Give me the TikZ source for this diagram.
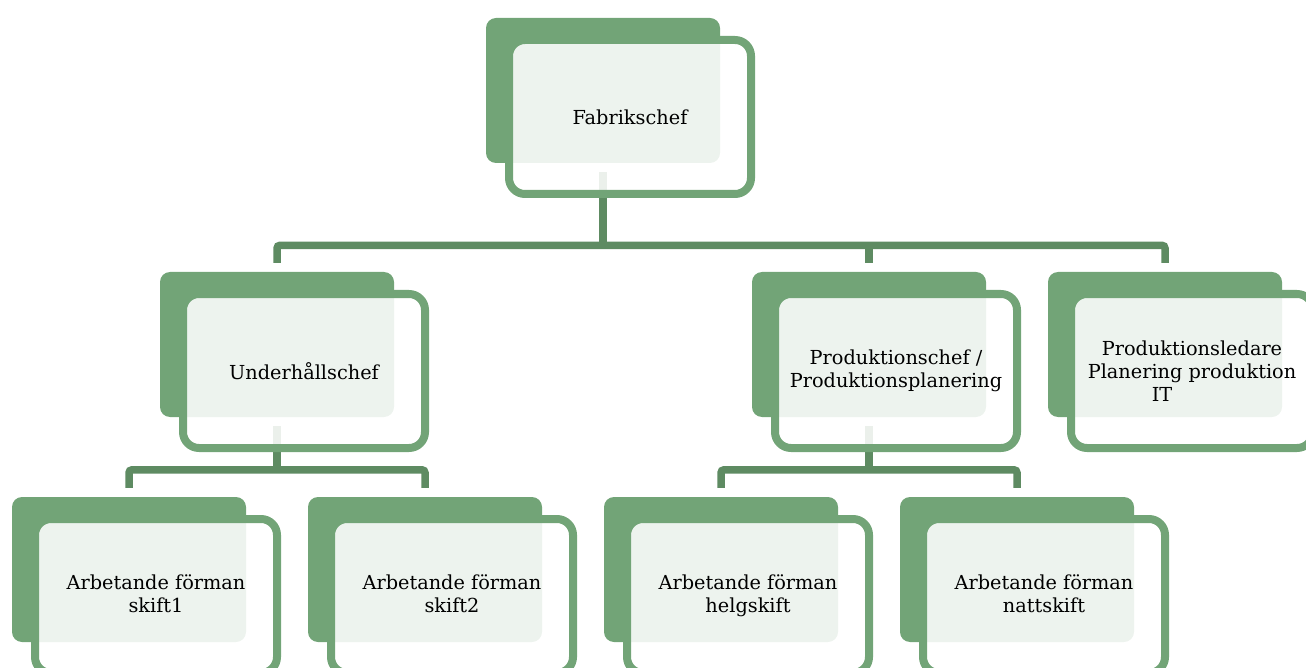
\documentclass[tikz,border=0pt]{standalone}
\usepackage{fontspec}
\setmainfont{DejaVu Serif}
\usetikzlibrary{calc}
\definecolor{boxgreen}{HTML}{72A477}
\definecolor{conngreen}{HTML}{5E8B62}
\tikzset{
  backbox/.style={fill=boxgreen, draw=none, rounded corners=10pt, minimum width=234pt, minimum height=145pt, inner sep=0pt},
  frontbox/.style={fill=white, fill opacity=0.88, text opacity=1, draw=boxgreen, line width=8pt, rounded corners=16pt, minimum width=242pt, minimum height=154pt, inner sep=0pt, align=center, font=\fontsize{19.3}{23}\selectfont, text=black},
  conn/.style={draw=conngreen, line width=7.5pt, rounded corners=3pt},
}
\begin{document}
\begin{tikzpicture}[x=1pt, y=-1pt]
\useasboundingbox (0,0) rectangle (1306,668);
% back boxes
\node[backbox] (bF)  at (603,90.5) {};
\node[backbox] (bU)  at (277,344.5) {};
\node[backbox] (bPC) at (869,344.5) {};
\node[backbox] (bPL) at (1165,344.5) {};
\node[backbox] (bA1) at (129,569.5) {};
\node[backbox] (bA2) at (425,569.5) {};
\node[backbox] (bA3) at (721,569.5) {};
\node[backbox] (bA4) at (1017,569.5) {};
% connectors
\draw[conn] ($(bF.south)+(0,9)$) -- ($(bF.south)+(0,82.5)$);
\draw[conn] ($(bU.north)+(0,-9)$) |- ($(bPL.north)+(0,-26.5)$) -- ($(bPL.north)+(0,-9)$);
\draw[conn] ($(bPC.north)+(0,-9)$) -- ($(bPC.north)+(0,-26.5)$);
\draw[conn] ($(bU.south)+(0,9)$) -- ($(bU.south)+(0,53)$);
\draw[conn] ($(bA1.north)+(0,-9)$) |- ($(bA2.north)+(0,-27)$) -- ($(bA2.north)+(0,-9)$);
\draw[conn] ($(bPC.south)+(0,9)$) -- ($(bPC.south)+(0,53)$);
\draw[conn] ($(bA3.north)+(0,-9)$) |- ($(bA4.north)+(0,-27)$) -- ($(bA4.north)+(0,-9)$);
% front boxes
\node[frontbox] (fF)  at ($(bF.center)+(27,26.5)$) {Fabrikschef};
\node[frontbox] (fU)  at ($(bU.center)+(27,26.5)$) {Underhållschef};
\node[frontbox] (fPC) at ($(bPC.center)+(27,26.5)$) {Produktionschef /\\Produktionsplanering};
\node[frontbox] (fPL) at ($(bPL.center)+(27,26.5)$) {Produktionsledare\\Planering produktion\\\hspace*{-60pt}IT};
\node[frontbox] (fA1) at ($(bA1.center)+(27,26.5)$) {Arbetande förman\\skift1\vphantom{g}};
\node[frontbox] (fA2) at ($(bA2.center)+(27,26.5)$) {Arbetande förman\\skift2\vphantom{g}};
\node[frontbox] (fA3) at ($(bA3.center)+(27,26.5)$) {Arbetande förman\\helgskift};
\node[frontbox] (fA4) at ($(bA4.center)+(27,26.5)$) {Arbetande förman\\nattskift\vphantom{g}};
\end{tikzpicture}
\end{document}
